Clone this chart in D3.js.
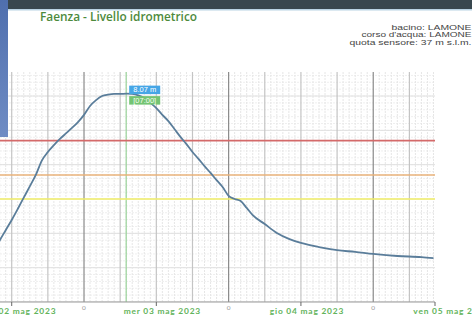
<!DOCTYPE html>
<html>
<head>
<meta charset="utf-8">
<script src="https://cdn.jsdelivr.net/npm/d3@7"></script>
<style>
  html, body { margin: 0; padding: 0; background: #fff; }
  svg { display: block; }
</style>
</head>
<body>
<div class="item"></div>
<script>
var width = 472;   // larghezza
var height = 319;  // altezza

// livello idrometrico (m), letture orarie
var times = [
  "2023-05-02T09:00", "2023-05-02T10:00", "2023-05-02T11:00", "2023-05-02T12:00",
  "2023-05-02T13:00", "2023-05-02T14:00", "2023-05-02T15:00", "2023-05-02T16:00",
  "2023-05-02T17:00", "2023-05-02T18:00", "2023-05-02T19:00", "2023-05-02T20:00",
  "2023-05-02T21:00", "2023-05-02T22:00", "2023-05-02T23:00", "2023-05-03T00:00",
  "2023-05-03T01:00", "2023-05-03T02:00", "2023-05-03T03:00", "2023-05-03T04:00",
  "2023-05-03T05:00", "2023-05-03T06:00", "2023-05-03T07:00", "2023-05-03T08:00",
  "2023-05-03T09:00", "2023-05-03T10:00", "2023-05-03T11:00", "2023-05-03T12:00",
  "2023-05-03T13:00", "2023-05-03T14:00", "2023-05-03T15:00", "2023-05-03T16:00",
  "2023-05-03T17:00", "2023-05-03T18:00", "2023-05-03T19:00", "2023-05-03T20:00",
  "2023-05-03T21:00", "2023-05-03T22:00", "2023-05-03T23:00", "2023-05-04T00:00",
  "2023-05-04T01:00", "2023-05-04T02:00", "2023-05-04T03:00", "2023-05-04T04:00",
  "2023-05-04T06:00", "2023-05-04T08:00", "2023-05-04T10:00", "2023-05-04T12:00",
  "2023-05-04T15:00", "2023-05-04T18:00", "2023-05-04T21:00", "2023-05-05T00:00",
  "2023-05-05T04:00", "2023-05-05T08:00", "2023-05-05T10:00"
];
var levels = [
  3.46, 3.79, 4.09, 4.39,
  4.71, 5.04, 5.37, 5.70,
  6.12, 6.37, 6.57, 6.75,
  6.91, 7.07, 7.24, 7.45,
  7.71, 7.88, 8.00, 8.04,
  8.06, 8.06, 8.07, 8.06,
  8.02, 7.94, 7.80, 7.65,
  7.45, 7.27, 7.04, 6.81,
  6.60, 6.37, 6.17, 5.96,
  5.76, 5.55, 5.35, 5.09,
  5.00, 4.94, 4.74, 4.53,
  4.27, 4.01, 3.84, 3.72,
  3.60, 3.51, 3.46, 3.40,
  3.34, 3.31, 3.28
];

// soglie
var thresholdValues = [5.0, 5.7, 6.7];
var thresholdColors = ["#f3f06a", "#e9b27a", "#d46a6a"];

var dayLabels = ["mar 02 mag 2023", "mer 03 mag 2023", "gio 04 mag 2023", "ven 05 mag 2023"];
var peakLabel = "8.07 m";
var peakTime = "[07:00]";
var infoLines = ["bacino: LAMONE", "corso d'acqua: LAMONE", "quota sensore: 37 m s.l.m."];
var infoWidths = [80, 110, 122];

var parse = d3.timeParse("%Y-%m-%dT%H:%M");
var data = times.map(function(t, i) { return { date: parse(t), value: levels[i] }; });

var plotTop = 72, plotBottom = 302, plotRight = 435;

var x = d3.scaleTime()
  .domain([parse("2023-05-02T00:00"), parse("2023-05-05T10:15")])
  .range([-60.6, plotRight]);
var y = d3.scaleLinear().domain([2, 8.7]).range([plotBottom, plotTop]);

var svg = d3.select(".item").append("svg")
  .attr("width", width)
  .attr("height", height);

var defs = svg.append("defs");
defs.append("clipPath").attr("id", "clip")
  .append("rect").attr("x", 0).attr("y", plotTop).attr("width", plotRight).attr("height", plotBottom - plotTop);

// intestazione scura
svg.append("rect").attr("x", 0).attr("y", 0).attr("width", width).attr("height", 9).attr("fill", "#38474f");
svg.append("rect").attr("x", 0).attr("y", 9).attr("width", width).attr("height", 1.5).attr("fill", "#b9d3e4");

// titolo
svg.append("text")
  .attr("x", 40).attr("y", 21)
  .attr("font-family", "Open Sans, sans-serif")
  .attr("font-weight", 600)
  .attr("font-size", 12)
  .attr("textLength", 157)
  .attr("lengthAdjust", "spacingAndGlyphs")
  .attr("fill", "#4d8a3c")
  .text("Faenza - Livello idrometrico");

svg.selectAll(".info").data(infoLines).enter().append("text")
  .attr("class", "info")
  .attr("x", 471.5)
  .attr("y", function(d, i) { return 29.5 + i * 7.8; })
  .attr("text-anchor", "end")
  .attr("font-family", "Liberation Sans, Arial, sans-serif")
  .attr("font-size", 6.6)
  .attr("textLength", function(d, i) { return infoWidths[i]; })
  .attr("lengthAdjust", "spacingAndGlyphs")
  .attr("fill", "#444")
  .text(function(d) { return d; });

var plot = svg.append("g").attr("clip-path", "url(#clip)");

// griglia orizzontale
plot.selectAll(".hminor").data(d3.range(2, 8.7, 0.2)).enter().append("line")
  .attr("x1", 0).attr("x2", plotRight)
  .attr("y1", function(d) { return y(d); }).attr("y2", function(d) { return y(d); })
  .attr("stroke", "#efefef").attr("stroke-dasharray", "2,1");
plot.selectAll(".hmajor").data(y.ticks(7)).enter().append("line")
  .attr("x1", 0).attr("x2", plotRight)
  .attr("y1", function(d) { return y(d); }).attr("y2", function(d) { return y(d); })
  .attr("stroke", "#e0e0e0");

// griglia verticale
var hours = x.ticks(d3.timeHour.every(1));
plot.selectAll(".vminor").data(hours.filter(function(d) { return d.getHours() % 6 !== 0; })).enter().append("line")
  .attr("x1", function(d) { return x(d); }).attr("x2", function(d) { return x(d); })
  .attr("y1", plotTop).attr("y2", plotBottom)
  .attr("stroke", "#e6e6e6").attr("stroke-dasharray", "2,1");
plot.selectAll(".vmajor").data(x.ticks(d3.timeHour.every(6))).enter().append("line")
  .attr("x1", function(d) { return x(d); }).attr("x2", function(d) { return x(d); })
  .attr("y1", plotTop).attr("y2", plotBottom)
  .attr("stroke", function(d) { return d.getHours() === 0 ? "#8a8a8a" : "#c4c4c4"; })
  .attr("stroke-width", 1.2);

// linea del picco
var peakDate = parse("2023-05-03T07:00");
plot.append("line")
  .attr("x1", x(peakDate)).attr("x2", x(peakDate))
  .attr("y1", plotTop).attr("y2", plotBottom)
  .attr("stroke", "#9ad39a").attr("stroke-width", 1.2);

// soglie
plot.selectAll(".soglia").data(thresholdValues).enter().append("line")
  .attr("x1", 0).attr("x2", plotRight)
  .attr("y1", function(d) { return y(d); }).attr("y2", function(d) { return y(d); })
  .attr("stroke", function(d, i) { return thresholdColors[i]; })
  .attr("stroke-width", 1.6);

// livello
var line = d3.line()
  .x(function(d) { return x(d.date); })
  .y(function(d) { return y(d.value); })
  .curve(d3.curveMonotoneX);
plot.append("path").datum(data)
  .attr("d", line)
  .attr("fill", "none")
  .attr("stroke", "#5a7d9a")
  .attr("stroke-width", 1.8);

// asse x
svg.append("line").attr("x1", 0).attr("x2", plotRight).attr("y1", plotBottom).attr("y2", plotBottom)
  .attr("stroke", "#999");
var noons = d3.range(4).map(function(i) { return d3.timeHour.offset(parse("2023-05-02T12:00"), 24 * i); })
  .filter(function(d) { return x(d) <= plotRight; });
svg.selectAll(".tick").data(noons.concat([parse("2023-05-05T10:15")])).enter().append("line")
  .attr("x1", function(d) { return x(d); }).attr("x2", function(d) { return x(d); })
  .attr("y1", plotBottom).attr("y2", plotBottom + 4)
  .attr("stroke", "#666");
svg.selectAll(".daylab").data(dayLabels).enter().append("text")
  .attr("x", function(d, i) { return x(d3.timeHour.offset(parse("2023-05-02T12:00"), 24 * i)) + 6; })
  .attr("y", 314)
  .attr("text-anchor", "middle")
  .attr("font-family", "Lato, sans-serif")
  .attr("font-weight", "bold")
  .attr("font-size", 8.4)
  .attr("letter-spacing", 0.8)
  .attr("fill", "#62b35a")
  .text(function(d) { return d; });
svg.selectAll(".zero").data(x.ticks(d3.timeDay.every(1)).filter(function(d) { return x(d) > 0; })).enter().append("text")
  .attr("x", function(d) { return x(d); })
  .attr("y", 310)
  .attr("text-anchor", "middle")
  .attr("font-family", "Lato, sans-serif")
  .attr("font-size", 6.5)
  .attr("fill", "#999")
  .text("0");

// etichette del picco
var bx = x(peakDate) + 3, by = y(8.07);
svg.append("rect").attr("x", bx).attr("y", by - 8).attr("width", 31).attr("height", 8.5).attr("fill", "#46a6e6");
svg.append("text").attr("x", bx + 15.5).attr("y", by - 1.3).attr("text-anchor", "middle")
  .attr("font-family", "Liberation Sans, Arial, sans-serif").attr("font-size", 7.5).attr("fill", "#fff").text(peakLabel);
svg.append("rect").attr("x", bx).attr("y", by + 2.5).attr("width", 31).attr("height", 8.5).attr("fill", "#74c474");
svg.append("text").attr("x", bx + 15.5).attr("y", by + 9.3).attr("text-anchor", "middle")
  .attr("font-family", "Liberation Sans, Arial, sans-serif").attr("font-size", 7.5).attr("fill", "#f4fff0").text(peakTime);

// bordo blu a sinistra, sopra tutto
var grad = defs.append("linearGradient").attr("id", "side").attr("x1", 0).attr("x2", 0).attr("y1", 0).attr("y2", 1);
grad.append("stop").attr("offset", "0").attr("stop-color", "#4f6fae");
grad.append("stop").attr("offset", "1").attr("stop-color", "#6f8cc4");
svg.append("rect").attr("x", 0).attr("y", 0).attr("width", 8).attr("height", 137).attr("fill", "url(#side)");
</script>
</body>
</html>
